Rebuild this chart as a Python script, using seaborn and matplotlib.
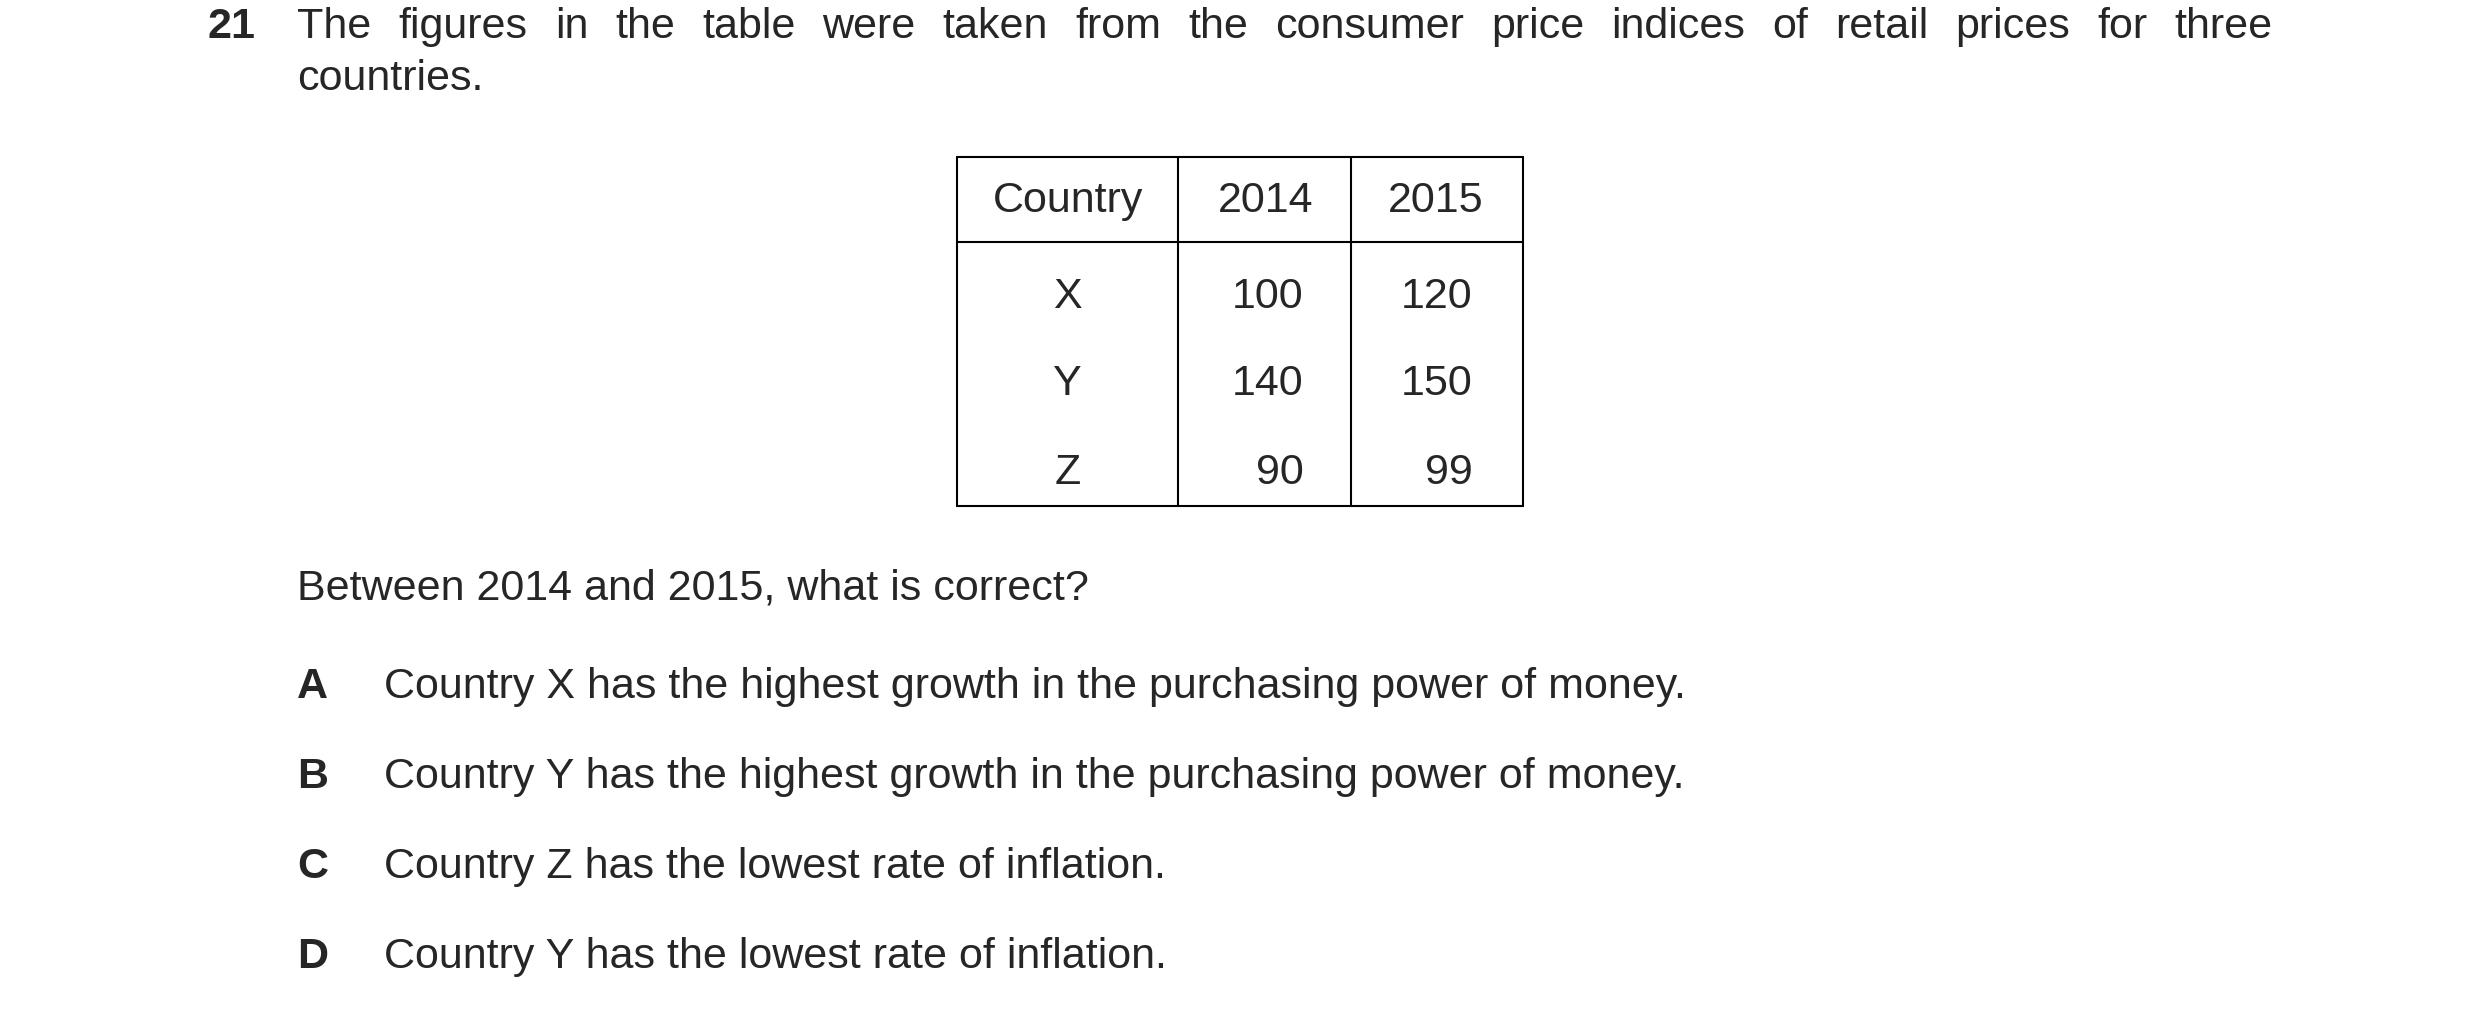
import matplotlib
matplotlib.use("Agg")
import matplotlib.pyplot as plt
import seaborn as sns

# data
countries = ["X", "Y", "Z"]
idx_2014 = [100, 140, 90]
idx_2015 = [120, 150, 99]
headers = ["Country", "2014", "2015"]
question_no = "21"
intro_line1 = "The figures in the table were taken from the consumer price indices of retail prices for three"
intro_line2 = "countries."
prompt = "Between 2014 and 2015, what is correct?"
letters = ["A", "B", "C", "D"]
options = [
    "Country X has the highest growth in the purchasing power of money.",
    "Country Y has the highest growth in the purchasing power of money.",
    "Country Z has the lowest rate of inflation.",
    "Country Y has the lowest rate of inflation.",
]

sns.set_theme(style="white")
plt.rcParams['font.family'] = ['Liberation Sans', 'DejaVu Sans']
fs = 31

fig = plt.figure(figsize=(24.8, 10.22), dpi=100)
ax = fig.add_axes([0, 0, 1, 1])
ax.set_xlim(0, 1568)
ax.set_ylim(646, 0)
ax.axis("off")

ax.text(131, 17, question_no, fontsize=fs, fontweight="bold", va="center")

# justified first line
words = intro_line1.split()
fig.canvas.draw()
r = fig.canvas.get_renderer()
inv = ax.transData.inverted()
arts = [ax.text(0, 17, w, fontsize=fs, va="center") for w in words]
widths = []
for a in arts:
    bb = a.get_window_extent(r)
    x0 = inv.transform((bb.x0, bb.y0))[0]
    x1 = inv.transform((bb.x1, bb.y0))[0]
    widths.append(x1 - x0)
left, right = 188, 1437
gap = (right - left - sum(widths)) / (len(words) - 1)
x = left
for a, w in zip(arts, widths):
    a.set_x(x)
    x += w + gap
ax.text(188, 50, intro_line2, fontsize=fs, va="center")

# table
tx = [605, 745, 854, 963]
ty_top, ty_head, ty_bot = 99, 153, 320
lw = 1.5
for xv in tx:
    ax.plot([xv, xv], [ty_top, ty_bot], color="black", lw=lw)
for yv in [ty_top, ty_head, ty_bot]:
    ax.plot([tx[0], tx[-1]], [yv, yv], color="black", lw=lw)
ax.text(675, 127, headers[0], fontsize=fs, ha="center", va="center")
ax.text(800, 127, headers[1], fontsize=fs, ha="center", va="center")
ax.text(908, 127, headers[2], fontsize=fs, ha="center", va="center")
row_y = [188, 243, 299]
for c, a, b, yv in zip(countries, idx_2014, idx_2015, row_y):
    ax.text(675, yv, c, fontsize=fs, ha="center", va="center")
    ax.text(824, yv, str(a), fontsize=fs, ha="right", va="center")
    ax.text(931, yv, str(b), fontsize=fs, ha="right", va="center")

ax.text(188, 372, prompt, fontsize=fs, va="center")
opt_y = [434, 491, 548, 605]
for l, o, yv in zip(letters, options, opt_y):
    ax.text(188, yv, l, fontsize=fs, fontweight="bold", va="center")
    ax.text(243, yv, o, fontsize=fs, va="center")

fig.savefig("out.png", dpi=100, facecolor="white")
